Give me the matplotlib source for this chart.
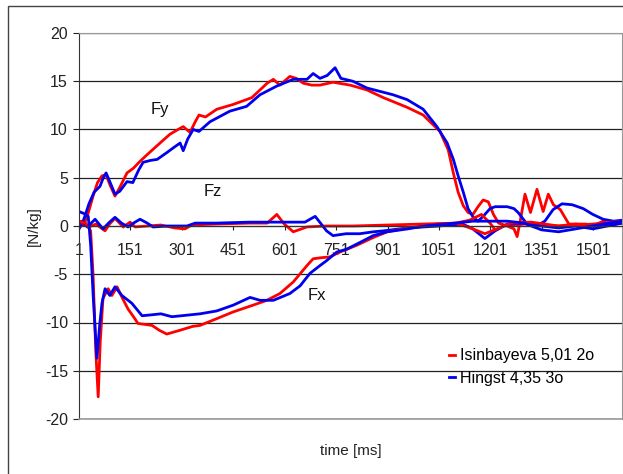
import matplotlib
matplotlib.use("Agg")
import matplotlib.pyplot as plt
from matplotlib.patches import Rectangle

plt.rcParams['font.family'] = ['Liberation Sans Narrow', 'Liberation Sans', 'DejaVu Sans']
plt.rcParams['axes.unicode_minus'] = False

# sample index (1 sample = 1 ms) and force values [N/kg]
fy_red_t = [1, 15, 25, 42, 55, 68, 80, 92, 106, 120, 141, 160, 179, 200, 228, 250, 266, 285, 305, 325,
            340, 351, 370, 403, 451, 505, 529, 550, 568, 587, 616, 635, 655, 680, 704, 742, 792, 841,
            889, 958, 1005, 1054, 1078, 1093, 1107, 1122, 1136, 1150, 1165, 1180, 1195, 1210, 1225,
            1250, 1270, 1279, 1288, 1302, 1318, 1337, 1355, 1370, 1385, 1405, 1430, 1480, 1500, 1530,
            1550, 1585]
fy_red = [0, 0.1, 1.0, 3.1, 4.5, 5.2, 5.3, 4.2, 3.1, 4.0, 5.5, 6.0, 6.7, 7.4, 8.3, 9.0, 9.5, 9.9, 10.3, 9.7,
          10.8, 11.5, 11.3, 12.1, 12.6, 13.3, 14.1, 14.8, 15.2, 14.6, 15.5, 15.3, 14.8, 14.6, 14.6, 14.9,
          14.6, 14.1, 13.3, 12.3, 11.5, 9.8, 7.9, 5.5, 3.5, 2.1, 1.4, 1.2, 2.0, 2.7, 2.5, 1.2, 0.3,
          0.0, -0.3, -1.1, 0.5, 3.3, 1.4, 3.8, 1.5, 3.3, 2.2, 1.7, 0.2, 0.2, 0, 0.5, 0.1, 0.3]

fy_blue_t = [1, 10, 18, 30, 45, 62, 72, 80, 92, 106, 120, 141, 158, 175, 188, 210, 229, 257, 280, 296,
             305, 318, 334, 351, 383, 441, 490, 529, 578, 626, 666, 684, 704, 725, 748, 765, 800, 841,
             917, 958, 1005, 1045, 1075, 1093, 1107, 1122, 1136, 1151, 1165, 1180, 1200, 1215, 1250,
             1270, 1282, 1308, 1330, 1360, 1384, 1410, 1440, 1472, 1500, 1530, 1560, 1585]
fy_blue = [-0.3, 0.2, 1.0, 2.3, 3.5, 4.1, 5.0, 5.5, 4.5, 3.3, 3.6, 4.6, 4.5, 5.8, 6.6, 6.8, 6.9, 7.6, 8.2, 8.6,
           7.8, 9.0, 10.0, 9.8, 10.8, 11.9, 12.4, 13.6, 14.5, 15.2, 15.2, 15.8, 15.3, 15.6, 16.4, 15.3, 15.0,
           14.3, 13.6, 13.1, 12.1, 10.3, 8.6, 6.9, 5.2, 3.5, 1.8, 0.9, 0.5, 1.0, 1.8, 2.0, 2.0,
           1.8, 1.4, 0.2, -0.1, 0.5, 1.7, 2.3, 2.2, 1.8, 1.2, 0.7, 0.5, 0.6]

fz_red_t = [1, 15, 30, 50, 77, 90, 106, 130, 150, 165, 200, 240, 280, 310, 330, 400, 500, 550, 578, 600,
            626, 666, 720, 800, 900, 1000, 1100, 1140, 1175, 1200, 1215, 1240, 1300, 1400, 1450, 1500,
            1585]
fz_red = [0.5, 0.2, -0.1, 0.2, -0.5, 0.2, 0.8, -0.1, 0.4, -0.1, 0, 0.1, -0.2, -0.3, 0.1, 0.2, 0.3, 0.3, 1.2,
          0.2, -0.6, -0.1, 0, 0, 0.1, 0.2, 0.3, 0.6, 1.2, 0.3, -0.4, 0, 0.2, 0, 0.2, 0, 0.3]

fz_blue_t = [1, 10, 25, 48, 71, 90, 106, 125, 144, 160, 179, 200, 217, 260, 316, 340, 400, 500, 600, 660,
             690, 723, 742, 780, 820, 860, 890, 960, 1050, 1120, 1150, 1185, 1215, 1250, 1300, 1350,
             1400, 1450, 1500, 1585]
fz_blue = [0.3, 0.5, -0.1, 0.7, -0.3, 0.4, 0.9, 0.3, -0.1, 0.3, 0.7, 0.3, -0.1, 0, 0, 0.3, 0.3, 0.4, 0.4,
           0.4, 1.0, -0.5, -1.0, -0.8, -0.8, -0.6, -0.5, -0.2, 0, 0.2, -0.3, -1.3, -0.5, 0.2, 0.3, 0,
           -0.2, 0, -0.3, 0.3]

fx_red_t = [1, 20, 35, 42, 50, 57, 63, 71, 86, 97, 112, 128, 144, 160, 173, 214, 235, 257, 296, 333, 354,
            403, 451, 509, 549, 587, 626, 666, 684, 704, 733, 762, 811, 859, 900, 960, 1050, 1100, 1150,
            1185, 1220, 1260, 1320, 1400, 1500, 1585]
fx_red = [0.5, 0.3, -0.5, -5, -13, -17.7, -12, -7.5, -6.5, -7.2, -6.3, -7.5, -8.6, -9.4, -10.1, -10.3,
          -10.8, -11.2, -10.8, -10.4, -10.3, -9.6, -8.9, -8.2, -7.7, -7.0, -5.8, -4.1, -3.4, -3.3, -3.2,
          -2.7, -2.0, -1.2, -0.6, -0.2, 0.2, 0.3, -0.3, -0.8, -0.3, 0.3, 0.4, 0, 0.2, 0.5]

fx_blue_t = [1, 15, 28, 35, 42, 53, 62, 68, 77, 91, 106, 126, 155, 185, 214, 240, 272, 300, 354, 403, 451,
             500, 529, 568, 616, 646, 675, 704, 723, 753, 782, 821, 859, 900, 960, 1010, 1100, 1150, 1250,
             1300, 1350, 1400, 1450, 1530, 1585]
fx_blue = [1.5, 1.3, 1.0, -2, -7, -13.7, -10, -8, -6.5, -7.2, -6.3, -7.2, -8.0, -9.3, -9.2, -9.1, -9.4,
           -9.3, -9.1, -8.8, -8.2, -7.4, -7.7, -7.7, -7.0, -6.2, -4.9, -4.1, -3.6, -2.7, -2.4, -1.7, -1.0,
           -0.6, -0.3, 0, 0.3, 0.5, 0.5, 0.3, -0.4, -0.6, -0.3, 0.2, 0.5]

x_ticks = [1, 151, 301, 451, 601, 751, 901, 1051, 1201, 1351, 1501]
y_ticks = [-20, -15, -10, -5, 0, 5, 10, 15, 20]
labels = ['Isinbayeva 5,01 2o', 'Hingst 4,35 3o']

fig = plt.figure(figsize=(6.23, 4.74), dpi=100)
ax = fig.add_axes([79 / 623, 1 - 419 / 474, (622 - 79) / 623, (419 - 33) / 474])

lw = 2.0
ax.plot(fy_red_t, fy_red, color='#ff0000', lw=lw, label=labels[0])
ax.plot(fy_blue_t, fy_blue, color='#0000ee', lw=lw, label=labels[1])
ax.plot(fz_red_t, fz_red, color='#ff0000', lw=lw)
ax.plot(fz_blue_t, fz_blue, color='#0000ee', lw=lw)
ax.plot(fx_red_t, fx_red, color='#ff0000', lw=lw)
ax.plot(fx_blue_t, fx_blue, color='#0000ee', lw=lw)

ax.set_xlim(1, 1585)
ax.set_ylim(-20, 20)
ax.set_yticks(y_ticks)
ax.set_xticks(x_ticks)
ax.set_xticklabels([str(t) for t in x_ticks])
ax.yaxis.grid(True, color='#222222', lw=0.9)
ax.set_axisbelow(True)

ax.spines['bottom'].set_position(('data', 0))
ax.spines['bottom'].set_color('#333333')
ax.spines['left'].set_color('#333333')
ax.spines['top'].set_color('#999999')
ax.spines['right'].set_color('#999999')
ax.axhline(-20, color='#999999', lw=1.2, zorder=5, clip_on=False)

ax.tick_params(axis='y', direction='out', length=4, pad=4, labelsize=11.5, colors='#222222')
ax.tick_params(axis='x', direction='out', length=3, pad=9, labelsize=11.5, colors='#222222')

ax.set_ylabel('[N/kg]', fontsize=11, color='#222222', labelpad=3)
ax.set_xlabel('time [ms]', fontsize=11, color='#222222')
ax.xaxis.set_label_coords(0.5, -0.065)

ax.text(237, 12.1, 'Fy', fontsize=12, ha='center', va='center', color='#111111')
ax.text(392, 3.6, 'Fz', fontsize=12, ha='center', va='center', color='#111111')
ax.text(695, -7.2, 'Fx', fontsize=12, ha='center', va='center', color='#111111')

ax.legend(loc='upper left', bbox_to_anchor=(443 / 623, 1 - 342 / 474), bbox_transform=fig.transFigure,
          frameon=False, handlelength=0.35, handletextpad=0.3, labelspacing=0.45, fontsize=11.5,
          borderaxespad=0)

fig.patches.append(Rectangle((8 / 623, -0.05), 2, 1.05 - 6 / 474, transform=fig.transFigure,
                             fill=False, edgecolor='#444444', lw=1.0))

fig.savefig('out.png', dpi=100)
